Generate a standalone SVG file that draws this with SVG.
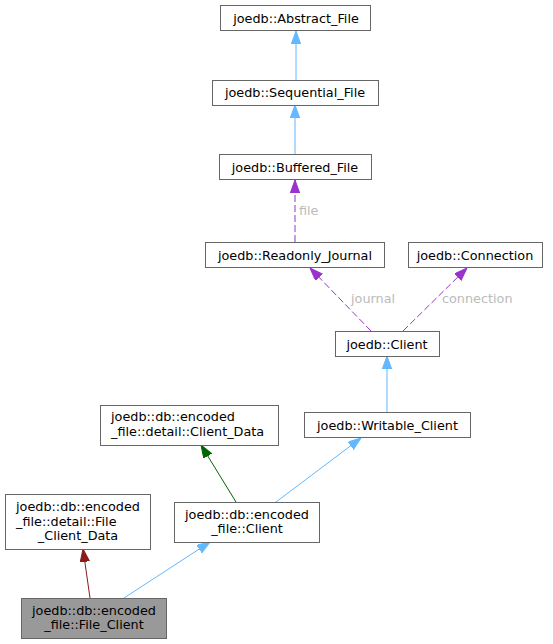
<svg xmlns="http://www.w3.org/2000/svg" width="553" height="644" viewBox="0 0 553 644">
<defs>
<style>
text{font-family:"DejaVu Sans","Liberation Sans",sans-serif;font-size:12.8px;fill:#000}
.box{fill:#fff;stroke:#666;stroke-width:1}
.cur{fill:#999;stroke:#666;stroke-width:1}
.lbl{fill:#bbb}
.e{fill:none;stroke-width:1}
.blue{stroke:#63b8ff}
.purple{stroke:#9a32cd;stroke-dasharray:7,3}
.green{stroke:#006400}
.red{stroke:#8b1a1a}
</style>
<marker id="ab" markerUnits="userSpaceOnUse" markerWidth="14" markerHeight="10" refX="13" refY="4.7" orient="auto"><path d="M0,0 L13,4.7 L0,9.4 z" fill="#63b8ff" stroke="#63b8ff"/></marker>
<marker id="ap" markerUnits="userSpaceOnUse" markerWidth="14" markerHeight="10" refX="13" refY="4.7" orient="auto"><path d="M0,0 L13,4.7 L0,9.4 z" fill="#9a32cd" stroke="#9a32cd"/></marker>
<marker id="ag" markerUnits="userSpaceOnUse" markerWidth="14" markerHeight="10" refX="13" refY="4.7" orient="auto"><path d="M0,0 L13,4.7 L0,9.4 z" fill="#006400" stroke="#006400"/></marker>
<marker id="ar" markerUnits="userSpaceOnUse" markerWidth="14" markerHeight="10" refX="13" refY="4.7" orient="auto"><path d="M0,0 L13,4.7 L0,9.4 z" fill="#8b1a1a" stroke="#8b1a1a"/></marker>
</defs>
<rect width="553" height="644" fill="#fff"/>
<g id="connectors">
<path class="e blue" d="M296,80 L296,31" marker-end="url(#ab)"/>
<path class="e blue" d="M295,154 L295,105" marker-end="url(#ab)"/>
<path class="e purple" d="M295,242 L295,180" marker-end="url(#ap)"/>
<text class="lbl" x="299" y="214.5">file</text>
<path class="e purple" d="M371,331 L310,268" marker-end="url(#ap)"/>
<text class="lbl" x="351" y="302.5">journal</text>
<path class="e purple" d="M403,331 L467,268" marker-end="url(#ap)"/>
<text class="lbl" x="442" y="302.5">connection</text>
<path class="e blue" d="M387,412 L387,356" marker-end="url(#ab)"/>
<path class="e blue" d="M276,502 L361,438" marker-end="url(#ab)"/>
<path class="e green" d="M236,502 L201,445" marker-end="url(#ag)"/>
<path class="e blue" d="M124,598 L210,542" marker-end="url(#ab)"/>
<path class="e red" d="M90,598 L83,549" marker-end="url(#ar)"/>
</g>
<g id="abstract_file"><rect class="box" x="220.5" y="5.5" width="150" height="25"/><text x="296" y="22.5" text-anchor="middle">joedb::Abstract_File</text></g>
<g id="sequential_file"><rect class="box" x="212.5" y="80.5" width="166" height="25"/><text x="295" y="97" text-anchor="middle">joedb::Sequential_File</text></g>
<g id="buffered_file"><rect class="box" x="219.5" y="154.5" width="152" height="25"/><text x="295" y="171.5" text-anchor="middle">joedb::Buffered_File</text></g>
<g id="readonly_journal"><rect class="box" x="205.5" y="242.5" width="179" height="25"/><text x="295" y="259.5" text-anchor="middle">joedb::Readonly_Journal</text></g>
<g id="connection"><rect class="box" x="408.5" y="242.5" width="134" height="25"/><text x="475" y="259.5" text-anchor="middle">joedb::Connection</text></g>
<g id="client"><rect class="box" x="335.5" y="331.5" width="104" height="25"/><text x="387" y="348.5" text-anchor="middle">joedb::Client</text></g>
<g id="writable_client"><rect class="box" x="304.5" y="412.5" width="166" height="25"/><text x="387.5" y="429.5" text-anchor="middle">joedb::Writable_Client</text></g>
<g id="client_data"><rect class="box" x="100.5" y="405.5" width="178" height="40"/><text x="111" y="421">joedb::db::encoded</text><text x="111" y="435.5">_file::detail::Client_Data</text></g>
<g id="file_client_data"><rect class="box" x="5.5" y="494.5" width="145" height="55"/><text x="16" y="511">joedb::db::encoded</text><text x="16" y="525.5">_file::detail::File</text><text x="78" y="540" text-anchor="middle">_Client_Data</text></g>
<g id="encoded_client"><rect class="box" x="174.5" y="502.5" width="145" height="40"/><text x="185" y="518.5">joedb::db::encoded</text><text x="247" y="533" text-anchor="middle">_file::Client</text></g>
<g id="file_client"><rect class="cur" x="21.5" y="598.5" width="145" height="40"/><text x="32" y="614.5">joedb::db::encoded</text><text x="94" y="629" text-anchor="middle">_file::File_Client</text></g>
</svg>
